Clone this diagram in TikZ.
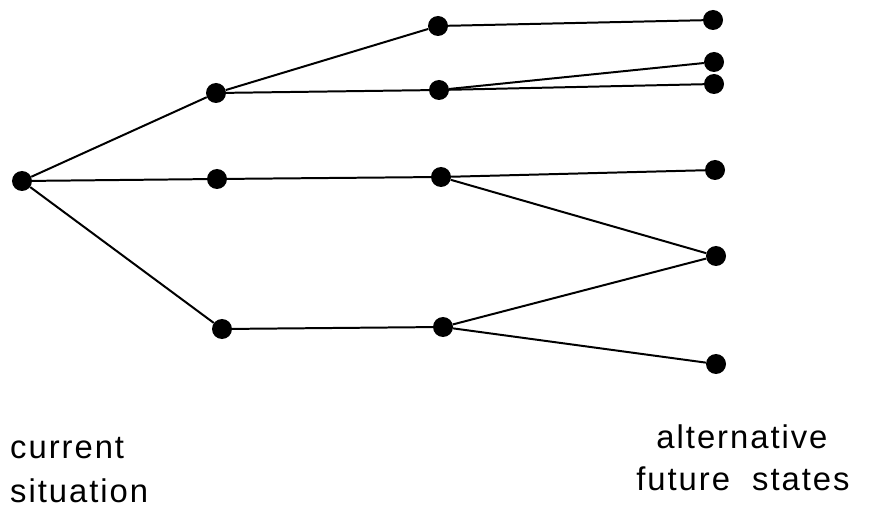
\documentclass[tikz,border=0pt]{standalone}
\usepackage{fontspec}
\newfontfamily\treefont[LetterSpace=6]{Liberation Sans}
\usetikzlibrary{positioning}
\tikzset{state/.style={circle,fill=black,minimum size=0.6cm,inner sep=0pt},
    branch/.style={draw,line width=1.7pt,-},
    caption/.style={font=\treefont\fontsize{28}{34}\selectfont,inner sep=0pt}}

\begin{document}
\begin{tikzpicture}[x=0.03cm, y=-0.03cm]
  \useasboundingbox (0,0) rectangle (884,509);

  % Current situation
  \node[state] (s0) at (22,181) {};

  % First step
  \node[state] (s1) at (216,93) {};
  \node[state] (s2) at (217,179) {};
  \node[state] (s3) at (222,329) {};

  % Second step
  \node[state] (s4) at (438,26) {};
  \node[state] (s5) at (439,90) {};
  \node[state] (s6) at (441,177) {};
  \node[state] (s7) at (443,327) {};

  % Alternative future states
  \node[state] (s8) at (713,20) {};
  \node[state] (s9) at (714,62) {};
  \node[state] (s10) at (714,84) {};
  \node[state] (s11) at (715,170) {};
  \node[state] (s12) at (716,256) {};
  \node[state] (s13) at (716,364) {};

  % Branches
  \draw[branch] (s0) -- (s1);
  \draw[branch] (s0) -- (s2);
  \draw[branch] (s0) -- (s3);
  \draw[branch] (s1) -- (s4);
  \draw[branch] (s1) -- (s5);
  \draw[branch] (s2) -- (s6);
  \draw[branch] (s3) -- (s7);
  \draw[branch] (s4) -- (s8);
  \draw[branch] (s5) -- (s9);
  \draw[branch] (s5) -- (s10);
  \draw[branch] (s6) -- (s11);
  \draw[branch] (s6) -- (s12);
  \draw[branch] (s7) -- (s12);
  \draw[branch] (s7) -- (s13);

  % Labels
  \node[caption, anchor=base west] (cur) at (10,458) {current};
  \node[caption, anchor=base west] (sit) at (10,502) {situation};
  \node[caption, anchor=base] (alt) at (742,448) {alternative};
  \node[caption, anchor=base] (fut) at (743,490) {future~~states};
\end{tikzpicture}
\end{document}
